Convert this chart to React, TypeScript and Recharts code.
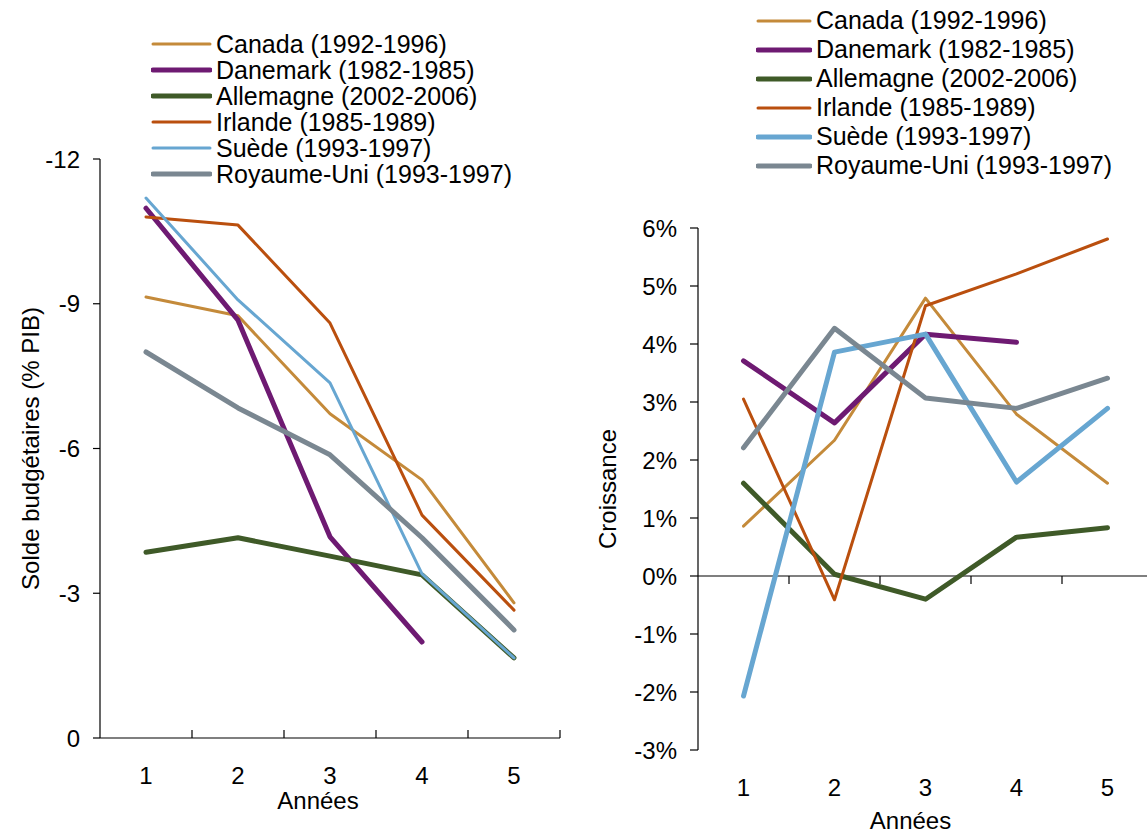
import React from 'react';
import { LineChart, Line, XAxis, YAxis, ReferenceLine, Label } from 'recharts';

const years = [1, 2, 3, 4, 5];
const seriesNames = [
  'Canada (1992-1996)',
  'Danemark (1982-1985)',
  'Allemagne (2002-2006)',
  'Irlande (1985-1989)',
  'Suède (1993-1997)',
  'Royaume-Uni (1993-1997)',
];
const seriesKeys = ['canada', 'danemark', 'allemagne', 'irlande', 'suede', 'royaumeUni'];
const seriesColors = ['#C48A3A', '#6E1A72', '#3F5A28', '#BA4F0E', '#67A6D1', '#7A8791'];
const leftWidths = [3, 5, 5, 3, 3, 5];
const rightWidths = [3, 5, 5, 3, 5, 5];

// Solde budgétaire (% PIB)
const soldeCanada = [-9.14, -8.75, -6.72, -5.35, -2.8];
const soldeDanemark = [-10.98, -8.66, -4.17, -1.99, null];
const soldeAllemagne = [-3.85, -4.15, -3.77, -3.38, -1.66];
const soldeIrlande = [-10.8, -10.63, -8.6, -4.62, -2.65];
const soldeSuede = [-11.19, -9.08, -7.36, -3.4, -1.66];
const soldeRoyaumeUni = [-8.0, -6.84, -5.87, -4.15, -2.24];

// Croissance (%)
const croissanceCanada = [0.86, 2.34, 4.79, 2.79, 1.6];
const croissanceDanemark = [3.71, 2.64, 4.17, 4.03, null];
const croissanceAllemagne = [1.6, 0.03, -0.4, 0.67, 0.83];
const croissanceIrlande = [3.05, -0.41, 4.66, 5.21, 5.81];
const croissanceSuede = [-2.07, 3.86, 4.17, 1.62, 2.89];
const croissanceRoyaumeUni = [2.21, 4.27, 3.07, 2.89, 3.41];

const soldeTicks = [-12, -9, -6, -3, 0];
const croissanceTicks = [-3, -2, -1, 0, 1, 2, 3, 4, 5, 6];
const leftXTicks = [1, 1.5, 2, 2.5, 3, 3.5, 4, 4.5, 5, 5.5];
const rightXTicks = [1, 2, 3, 4, 5];
const rightTickMarks = [1.5, 2.5, 3.5, 4.5];

const FONT = '"Liberation Sans", Arial, sans-serif';

const soldeSeries = [soldeCanada, soldeDanemark, soldeAllemagne, soldeIrlande, soldeSuede, soldeRoyaumeUni];
const croissanceSeries = [
  croissanceCanada,
  croissanceDanemark,
  croissanceAllemagne,
  croissanceIrlande,
  croissanceSuede,
  croissanceRoyaumeUni,
];

const buildRows = (series: (number | null)[][]) =>
  years.map((annee, i) => {
    const row: any = { annee };
    seriesKeys.forEach((k, j) => {
      row[k] = series[j][i];
    });
    return row;
  });

const soldeData = buildRows(soldeSeries);
const croissanceData = buildRows(croissanceSeries);

const LeftXTick = (props: any) => {
  const { x, y, payload } = props;
  const v = payload.value;
  if (Number.isInteger(v)) {
    return (
      <text x={x} y={y + 37} textAnchor="middle" dy="0.355em" fontSize={24} fontFamily={FONT} fill="#000">
        {v}
      </text>
    );
  }
  return <line x1={x} x2={x} y1={y} y2={y - 8} stroke="#000" strokeWidth={1.2} />;
};

const RightXTick = (props: any) => {
  const { x, y, payload } = props;
  return (
    <text x={x} y={y + 37} textAnchor="middle" dy="0.355em" fontSize={24} fontFamily={FONT} fill="#000">
      {payload.value}
    </text>
  );
};

const xTitle = (dx: number, dy: number) => (props: any) => {
  const vb = props.viewBox || { x: 0, y: 0, width: 0, height: 0 };
  return (
    <text
      x={vb.x + vb.width / 2 + dx}
      y={vb.y + dy}
      textAnchor="middle"
      dy="0.355em"
      fontSize={24}
      fontFamily={FONT}
      fill="#000"
    >
      Années
    </text>
  );
};

const yTitle = (text: string, dx: number) => (props: any) => {
  const vb = props.viewBox || { x: 0, y: 0, width: 0, height: 0 };
  const cx = vb.x + dx;
  const cy = vb.y + vb.height / 2;
  return (
    <text
      x={cx}
      y={cy}
      textAnchor="middle"
      dy="0.355em"
      transform={`rotate(-90, ${cx}, ${cy})`}
      fontSize={24}
      fontFamily={FONT}
      fill="#000"
    >
      {text}
    </text>
  );
};

const LegendBlock = ({
  left,
  top,
  rowH,
  swatchW,
  widths,
}: {
  left: number;
  top: number;
  rowH: number;
  swatchW: number;
  widths: number[];
}) => (
  <div style={{ position: 'absolute', left, top }}>
    {seriesNames.map((name, i) => (
      <div key={name} style={{ display: 'flex', alignItems: 'center', height: rowH }}>
        <svg width={swatchW} height={10} style={{ display: 'block' }}>
          <line
            x1={2}
            x2={swatchW - 2}
            y1={5}
            y2={5}
            stroke={seriesColors[i]}
            strokeWidth={widths[i]}
            strokeLinecap="round"
          />
        </svg>
        <span
          style={{
            marginLeft: 4,
            fontSize: 25,
            fontFamily: FONT,
            color: '#000',
            lineHeight: `${rowH}px`,
            whiteSpace: 'nowrap',
          }}
        >
          {name}
        </span>
      </div>
    ))}
  </div>
);

const axisStroke = { stroke: '#000', strokeWidth: 1.2 };

export default function App() {
  return (
    <div
      style={{
        position: 'absolute',
        left: 0,
        top: 0,
        width: 1147,
        height: 833,
        overflow: 'hidden',
        background: '#fff',
      }}
    >
      <div style={{ position: 'absolute', left: 0, top: 0 }}>
        <LineChart width={580} height={833} data={soldeData} margin={{ top: 159, right: 20, bottom: 35, left: 0 }}>
          <XAxis
            dataKey="annee"
            type="number"
            domain={[0.5, 5.5]}
            ticks={leftXTicks}
            interval={0}
            tickLine={false}
            tickSize={0}
            tickMargin={0}
            axisLine={axisStroke}
            tick={<LeftXTick />}
            height={60}
          >
            <Label content={xTitle(-12, 62)} />
          </XAxis>
          <YAxis
            type="number"
            domain={[-12, 0]}
            reversed
            ticks={soldeTicks}
            interval={0}
            width={100}
            axisLine={axisStroke}
            tickLine={axisStroke}
            tickSize={7}
            tickMargin={13}
            tick={{ fontSize: 24, fontFamily: FONT, fill: '#000' }}
          >
            <Label content={yTitle('Solde budgétaires (% PIB)', 30)} />
          </YAxis>
          {seriesKeys.map((k, i) => (
            <Line
              key={k}
              type="linear"
              dataKey={k}
              stroke={seriesColors[i]}
              strokeWidth={leftWidths[i]}
              strokeLinecap="round"
              strokeLinejoin="round"
              dot={false}
              activeDot={false}
              isAnimationActive={false}
            />
          ))}
        </LineChart>
      </div>

      <div style={{ position: 'absolute', left: 582, top: 0 }}>
        <LineChart
          width={578}
          height={833}
          data={croissanceData}
          margin={{ top: 228, right: 7, bottom: 23, left: 0 }}
        >
          <XAxis
            dataKey="annee"
            type="number"
            domain={[0.5, 5.5]}
            ticks={rightXTicks}
            interval={0}
            tickLine={false}
            tickSize={0}
            tickMargin={0}
            axisLine={false}
            tick={<RightXTick />}
            height={60}
          >
            <Label content={xTitle(-15, 70)} />
          </XAxis>
          <YAxis
            type="number"
            domain={[-3, 6]}
            ticks={croissanceTicks}
            interval={0}
            width={116}
            axisLine={axisStroke}
            tickLine={axisStroke}
            tickSize={8}
            tickMargin={13}
            tickFormatter={(v: number) => `${v}%`}
            tick={{ fontSize: 24, fontFamily: FONT, fill: '#000' }}
          >
            <Label content={yTitle('Croissance', 25)} />
          </YAxis>
          <ReferenceLine y={0} stroke="#000" strokeWidth={1.2} />
          {rightTickMarks.map((t) => (
            <ReferenceLine
              key={t}
              segment={[
                { x: t, y: 0 },
                { x: t, y: -0.14 },
              ]}
              stroke="#000"
              strokeWidth={1.2}
              ifOverflow="visible"
            />
          ))}
          {seriesKeys.map((k, i) => (
            <Line
              key={k}
              type="linear"
              dataKey={k}
              stroke={seriesColors[i]}
              strokeWidth={rightWidths[i]}
              strokeLinecap="round"
              strokeLinejoin="round"
              dot={false}
              activeDot={false}
              isAnimationActive={false}
            />
          ))}
        </LineChart>
      </div>

      <LegendBlock left={151} top={31} rowH={26} swatchW={61} widths={leftWidths} />
      <LegendBlock left={756} top={6} rowH={29} swatchW={56} widths={rightWidths} />
    </div>
  );
}
